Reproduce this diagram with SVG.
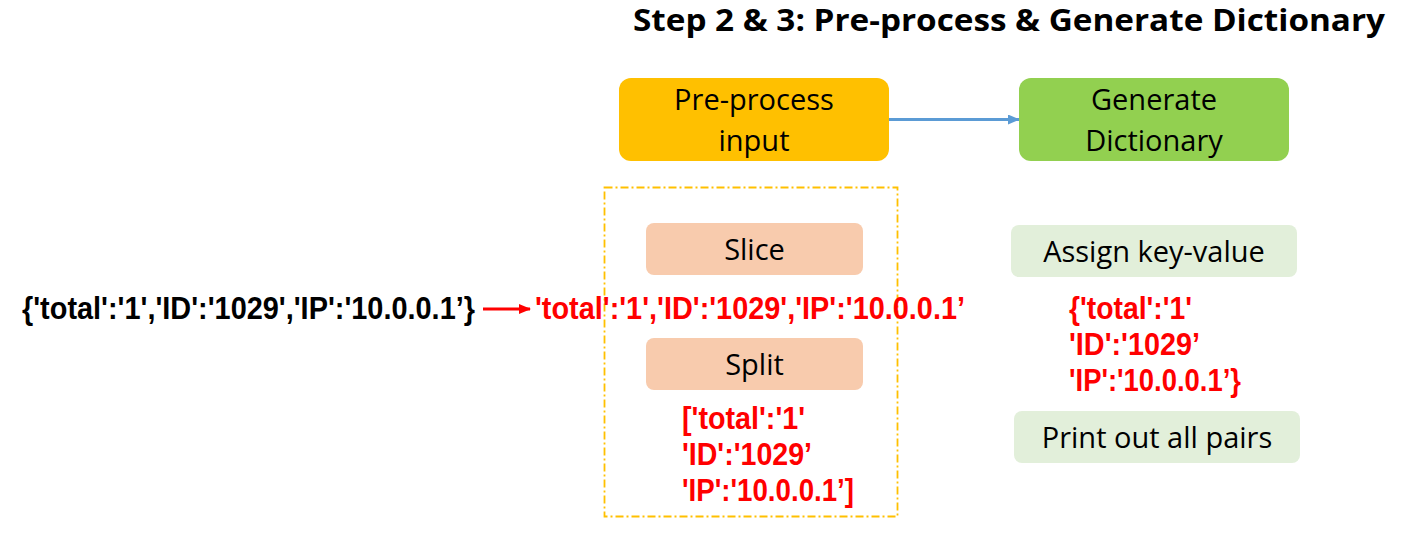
<svg xmlns="http://www.w3.org/2000/svg" width="1404" height="534" viewBox="0 0 1404 534">
<style>
.lbl{font-family:"Open Sans","Liberation Sans",sans-serif;font-size:29px;fill:#000;text-anchor:middle}
.code{font-family:"Liberation Sans","Arial",sans-serif;font-weight:bold;font-size:31px}
.red{fill:#FF0000}
</style>
<defs>
<marker id="blueArr" markerWidth="12" markerHeight="10" refX="11" refY="5" orient="auto" markerUnits="userSpaceOnUse"><path d="M0,0 L12,5 L0,10 z" fill="#5B9BD5"/></marker>
<marker id="redArr" markerWidth="12" markerHeight="10" refX="11" refY="5" orient="auto" markerUnits="userSpaceOnUse"><path d="M0,0 L12,5 L0,10 z" fill="#FF0000"/></marker>
</defs>
<rect width="1404" height="534" fill="#fff"/>
<text x="1009" y="31" text-anchor="middle" font-family="Open Sans, Liberation Sans, sans-serif" font-weight="bold" font-size="30" textLength="752" lengthAdjust="spacingAndGlyphs">Step 2 &amp; 3: Pre-process &amp; Generate Dictionary</text>
<g id="connectors">
<line x1="889" y1="119.5" x2="1019" y2="119.5" stroke="#5B9BD5" stroke-width="3" marker-end="url(#blueArr)"/>
<line x1="483" y1="309" x2="530" y2="309" stroke="#FF0000" stroke-width="3" marker-end="url(#redArr)"/>
</g>
<g id="preprocess">
<rect x="619" y="78" width="270" height="83" rx="12" fill="#FFC000"/>
<text class="lbl" x="754" y="110">Pre-process</text>
<text class="lbl" x="754" y="151">input</text>
</g>
<g id="generate">
<rect x="1019" y="78" width="270" height="83" rx="12" fill="#92D050"/>
<text class="lbl" x="1154" y="110">Generate</text>
<text class="lbl" x="1154" y="151">Dictionary</text>
</g>
<g id="preprocess-group">
<rect x="604.5" y="187.5" width="293" height="329" fill="none" stroke="#FFC000" stroke-width="1.8" stroke-dasharray="8,3,2,3"/>
</g>
<g id="slice">
<rect x="646" y="223" width="217" height="52" rx="8" fill="#F8CBAD"/>
<text class="lbl" x="754.5" y="260">Slice</text>
</g>
<g id="split">
<rect x="646" y="338" width="217" height="52" rx="8" fill="#F8CBAD"/>
<text class="lbl" x="754.5" y="375">Split</text>
</g>
<g id="assign">
<rect x="1011" y="225" width="286" height="52" rx="8" fill="#E2EFDA"/>
<text class="lbl" x="1154" y="262">Assign key-value</text>
</g>
<g id="print">
<rect x="1014" y="411" width="286" height="52" rx="8" fill="#E2EFDA"/>
<text class="lbl" x="1157" y="448">Print out all pairs</text>
</g>
<g id="input-text">
<text class="code" x="22" y="319" textLength="453" lengthAdjust="spacingAndGlyphs">{'total':'1','ID':'1029','IP':'10.0.0.1’}</text>
</g>
<g id="sliced-text">
<text class="code red" x="535" y="319" textLength="430" lengthAdjust="spacingAndGlyphs">'total':'1','ID':'1029','IP':'10.0.0.1’</text>
</g>
<g id="split-text">
<text class="code red" x="682" y="429" textLength="123" lengthAdjust="spacingAndGlyphs">['total':'1'</text>
<text class="code red" x="682" y="465" textLength="130" lengthAdjust="spacingAndGlyphs">'ID':'1029’</text>
<text class="code red" x="682" y="501" textLength="172" lengthAdjust="spacingAndGlyphs">'IP':'10.0.0.1’]</text>
</g>
<g id="dict-text">
<text class="code red" x="1069" y="319" textLength="123" lengthAdjust="spacingAndGlyphs">{'total':'1'</text>
<text class="code red" x="1069" y="355" textLength="131" lengthAdjust="spacingAndGlyphs">'ID':'1029’</text>
<text class="code red" x="1069" y="391" textLength="172" lengthAdjust="spacingAndGlyphs">'IP':'10.0.0.1’}</text>
</g>
</svg>
